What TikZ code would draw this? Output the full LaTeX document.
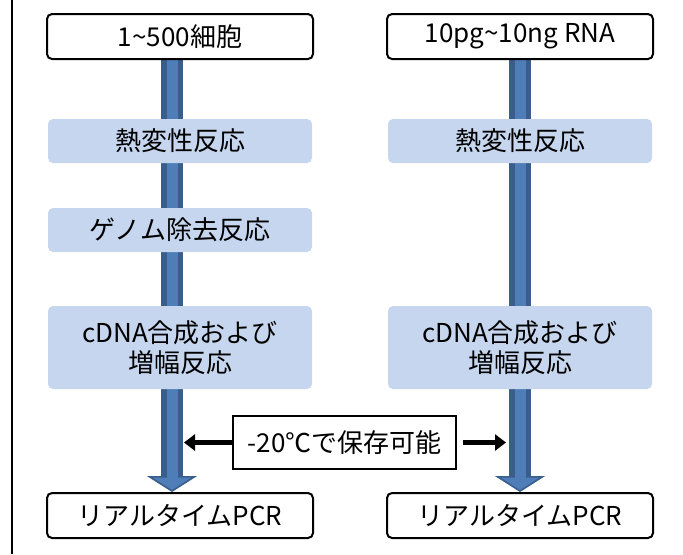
\documentclass[tikz,border=0pt]{standalone}
\usepackage{fontspec}
\setmainfont{Noto Sans CJK JP}
\usetikzlibrary{arrows.meta,backgrounds}

\definecolor{stepfill}{HTML}{C5D6EE}
\definecolor{shaftfill}{HTML}{4F7DB8}
\definecolor{shaftline}{HTML}{3A5E8C}

\begin{document}
\begin{tikzpicture}[
    x=0.5pt, y=-0.5pt,
    every node/.style={font=\fontsize{13pt}{15pt}\selectfont, align=center, inner sep=0pt},
    endbox/.style={draw=black, line width=1pt, rounded corners=2.5pt, fill=white, minimum width=133pt, minimum height=22.5pt},
    stepbox/.style={fill=stepfill, rounded corners=2.5pt, minimum width=132pt, minimum height=22pt},
    holdbox/.style={draw=black, line width=1.2pt, fill=white, minimum width=111.5pt, minimum height=26.5pt},
    flow/.style={draw=shaftline, line width=11pt, -{Triangle[width=25pt,length=8pt,fill=shaftfill,line width=0.8pt]}},
    flowcore/.style={draw=shaftfill, line width=5.5pt},
    hold/.style={line width=2.5pt, -{Triangle[width=8pt,length=5.5pt]}}
]
    \useasboundingbox (0,0) rectangle (683,554);
    \draw[line width=1pt] (12,0) -- (12,554);

    % cells
    \node[endbox] (cell) at (180,36.5) {1\textasciitilde500細胞};
    \node[stepbox] (heat1) at (180,141) {熱変性反応};
    \node[stepbox] (genome) at (180,230) {ゲノム除去反応};
    \node[stepbox, minimum height=41.5pt] (cdna1) at (180,347.5) {cDNA合成および\\増幅反応};
    \node[endbox] (pcr1) at (180,515.5) {リアルタイムPCR};

    % RNA
    \node[endbox] (rna) at (520,36.5) {10pg\textasciitilde10ng RNA};
    \node[stepbox] (heat2) at (520,141) {熱変性反応};
    \node[stepbox, minimum height=41.5pt] (cdna2) at (520,347.5) {cDNA合成および\\増幅反応};
    \node[endbox] (pcr2) at (520,515.5) {リアルタイムPCR};

    \node[holdbox] (store) at (344.5,442.5) {-20℃で保存可能};
    \coordinate (lhit) at (184,442.5);
    \coordinate (rhit) at (506,442.5);

    \begin{scope}[on background layer]
        \draw[flow] ([xshift=-4pt]cell.south) -- ([xshift=-4pt]pcr1.north);
        \draw[flowcore] ([xshift=-4pt]cell.south) -- ([xshift=-4pt, yshift=7pt]pcr1.north);
        \draw[flow] (rna.south) -- (pcr2.north);
        \draw[flowcore] (rna.south) -- ([yshift=7pt]pcr2.north);
    \end{scope}

    \draw[hold] (store.west) -- (lhit);
    \draw[hold] ([xshift=3pt]store.east) -- (rhit);
\end{tikzpicture}
\end{document}
